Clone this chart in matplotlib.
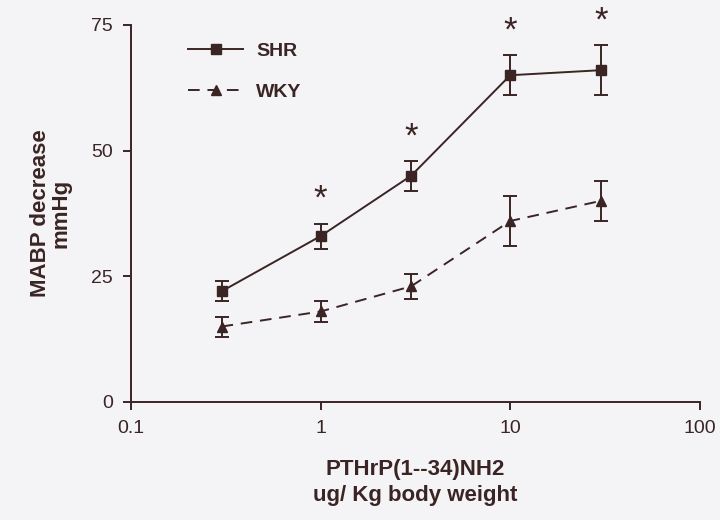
import matplotlib
matplotlib.use("Agg")
import matplotlib.pyplot as plt

dose = [0.3, 1, 3, 10, 30]
shr_mean = [22, 33, 45, 65, 66]
shr_err = [2, 2.5, 3, 4, 5]
wky_mean = [15, 18, 23, 36, 40]
wky_err = [2, 2, 2.5, 5, 4]
signif = [False, True, True, True, True]

ink = "#3b2424"
plt.rcParams["font.family"] = ["Liberation Sans", "DejaVu Sans"]

fig = plt.figure(figsize=(7.2, 5.2), dpi=100, facecolor="#f4f4f7")
ax = fig.add_axes([0.182, 0.227, 0.790, 0.725])
ax.set_facecolor("#f4f4f7")

dash = (0, (6, 4))
ax.errorbar(dose, shr_mean, yerr=shr_err, color=ink, fmt="none", capsize=5,
            capthick=1.4, elinewidth=1.4)
ax.errorbar(dose, wky_mean, yerr=wky_err, color=ink, fmt="none", capsize=5,
            capthick=1.4, elinewidth=1.4)
ax.plot(dose, shr_mean, color=ink, marker="s", ms=7, lw=1.4, label="SHR")
ax.plot(dose, wky_mean, color=ink, marker="^", ms=7, lw=1.4, ls=dash, label="WKY")

# significance stars above SHR bars
for x, m, e, s in zip(dose, shr_mean, shr_err, signif):
    if s:
        ax.text(x, m + e + 1.5, "*", ha="center", va="bottom", fontsize=25,
                color=ink, clip_on=False)

ax.set_xscale("log")
ax.set_xlim(0.1, 100)
ax.set_ylim(0, 75)
ax.set_xticks([0.1, 1, 10, 100])
ax.set_xticklabels(["0.1", "1", "10", "100"])
ax.set_yticks([0, 25, 50, 75])
ax.minorticks_off()

for side in ["top", "right"]:
    ax.spines[side].set_visible(False)
for side in ["left", "bottom"]:
    ax.spines[side].set_color(ink)
    ax.spines[side].set_linewidth(1.4)
ax.tick_params(colors=ink, labelsize=14, width=1.4, length=6, pad=7)

ax.set_ylabel("MABP decrease\nmmHg", fontsize=16, fontweight="bold", color=ink,
              labelpad=14, linespacing=1.0)
ax.set_xlabel("PTHrP(1--34)NH2\nug/ Kg body weight", fontsize=16, fontweight="bold",
              color=ink, labelpad=16, linespacing=1.3)

leg = ax.legend(loc="upper left", bbox_to_anchor=(0.07, 1.0), frameon=False,
                fontsize=14, handlelength=2.8, handletextpad=0.7, labelspacing=1.2)
for t in leg.get_texts():
    t.set_fontweight("bold")
    t.set_color(ink)

fig.savefig("out.png", dpi=100, facecolor=fig.get_facecolor())
